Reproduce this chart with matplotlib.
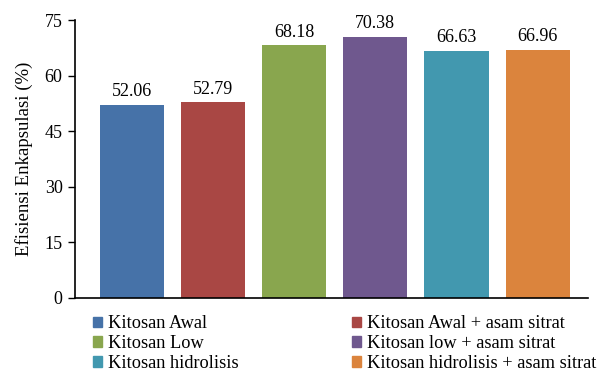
import matplotlib.pyplot as plt
from matplotlib.patches import Patch

plt.rcParams['font.family'] = 'Liberation Serif'

labels = ['Kitosan Awal', 'Kitosan Awal + asam sitrat', 'Kitosan Low',
          'Kitosan low + asam sitrat', 'Kitosan hidrolisis',
          'Kitosan hidrolisis + asam sitrat']
values = [52.06, 52.79, 68.18, 70.38, 66.63, 66.96]
colors = ['#4672A8', '#A94744', '#89A64E', '#6F588E', '#4298AF', '#DB843D']

fig = plt.figure(figsize=(6, 3.72), dpi=100)
ax = fig.add_axes([0.125, 0.199, 0.855, 0.747])

x = range(len(values))
bars = ax.bar(x, values, width=0.79, color=colors)
for b, v in zip(bars, values):
    ax.text(b.get_x() + b.get_width() / 2, v + 1.3, f'{v:.2f}',
            ha='center', va='bottom', fontsize=13)

ax.set_xlim(-0.7, 5.62)
ax.set_ylim(0, 75)
ax.set_yticks([0, 15, 30, 45, 60, 75])
ax.set_xticks([])
ax.tick_params(axis='y', labelsize=13, length=5, width=1, direction='out', pad=4)
ax.spines['top'].set_visible(False)
ax.spines['right'].set_visible(False)
ax.spines['left'].set_linewidth(1.2)
ax.spines['bottom'].set_linewidth(1.2)
ax.set_ylabel('Efisiensi Enkapsulasi (%)', fontsize=13.5, labelpad=8)

# legend: first column plain chitosan, second column with citric acid
order = [0, 2, 4, 1, 3, 5]
handles = [Patch(color=colors[i], label=labels[i]) for i in order]
fig.legend(handles=handles, ncol=2, loc='upper left',
           bbox_to_anchor=(0.155, 0.152), frameon=False, fontsize=13.2,
           handlelength=0.5, handleheight=0.5, handletextpad=0.3,
           columnspacing=6.2, labelspacing=0.15, borderpad=0, borderaxespad=0)

fig.savefig('out.png', dpi=100)
